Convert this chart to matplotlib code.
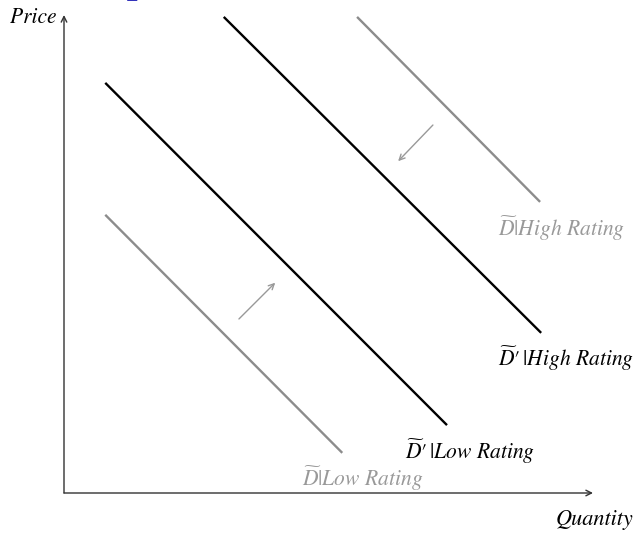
import numpy as np
from matplotlib import pyplot as plt

plt.rcParams['mathtext.fontset'] = 'stix'
plt.rcParams['font.family'] = ['STIXGeneral', 'DejaVu Serif']

# demand curves: (x_start, y_start, x_end, y_end) in quantity/price units
high_old = [5.54, 9.96, 9.00, 6.09]
high_new = [3.02, 9.96, 9.02, 3.35]
low_new = [0.78, 8.58, 7.24, 1.42]
low_old = [0.78, 5.82, 5.26, 0.84]

# shift arrows: (from_x, from_y, to_x, to_y)
shift_up = [3.27, 3.60, 4.03, 4.44]
shift_down = [7.01, 7.74, 6.28, 6.90]

labels = [r'$\widetilde{D}|$High Rating', r'$\widetilde{D}\prime\,|$High Rating',
          r'$\widetilde{D}\prime\,|$Low Rating', r'$\widetilde{D}|$Low Rating']
label_pos = [(8.2, 5.52), (8.2, 2.82), (6.45, 0.86), (4.5, 0.31)]
label_col = ['#999999', 'black', 'black', '#999999']

fig = plt.figure(figsize=(6.37, 5.33), dpi=100)
ax = fig.add_axes([64 / 637, 40 / 533, 529 / 637, 478 / 533])
ax.set_xlim(0, 10)
ax.set_ylim(0, 10)
ax.axis('off')

gray = '#8c8c8c'
for seg, col in [(high_old, gray), (high_new, 'black'), (low_new, 'black'), (low_old, gray)]:
    ax.plot([seg[0], seg[2]], [seg[1], seg[3]], color=col, lw=1.7, solid_capstyle='butt')

for a in [shift_up, shift_down]:
    ax.annotate('', xy=(a[2], a[3]), xytext=(a[0], a[1]),
                arrowprops=dict(arrowstyle='->', color='#999999', lw=1.0))

# axes with arrow heads
ax.annotate('', xy=(0, 10), xytext=(0, 0),
            arrowprops=dict(arrowstyle='->', color='#333333', lw=1.0, shrinkA=0, shrinkB=0))
ax.annotate('', xy=(10, 0), xytext=(0, 0),
            arrowprops=dict(arrowstyle='->', color='#333333', lw=1.0, shrinkA=0, shrinkB=0))

for txt, (x, y), col in zip(labels, label_pos, label_col):
    ax.text(x, y, txt, color=col, fontsize=15.5, style='italic', ha='left', va='center', clip_on=False)

ax.text(-0.15, 9.94, 'Price', fontsize=15.5, style='italic', ha='right', va='center', clip_on=False)
ax.text(10.76, -0.56, 'Quantity', fontsize=16, style='italic', ha='right', va='center', clip_on=False)

# cut-off title fragment at the top
fig.text(137 / 637, 1.0 + 8 / 533, 'p', color='#3333bb', fontsize=30, ha='center', va='baseline')

fig.savefig('out.png', dpi=100)
